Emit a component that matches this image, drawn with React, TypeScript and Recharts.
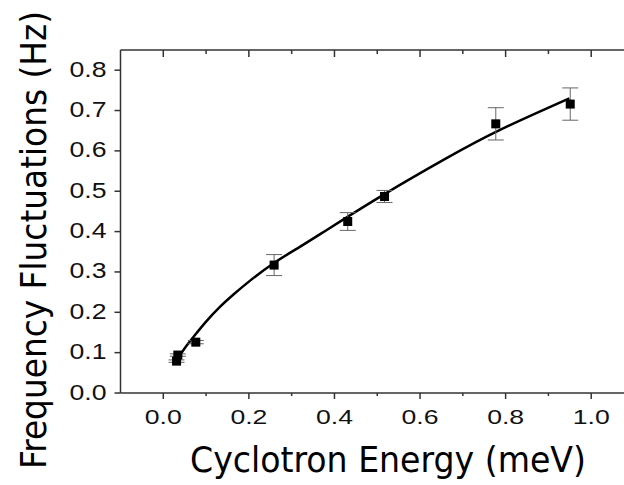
import React from "react";
import { ComposedChart, Line, Scatter, ErrorBar, XAxis, YAxis } from "recharts";

// measured points
const energy = [0.031, 0.034, 0.076, 0.259, 0.431, 0.517, 0.777, 0.951];
const fluct = [0.079, 0.094, 0.126, 0.317, 0.425, 0.487, 0.667, 0.716];
const fluctErr = [0.003, 0.003, 0.004, 0.026, 0.022, 0.015, 0.04, 0.04];

// fit curve
const fitEnergy = [0.037, 0.05, 0.075, 0.1, 0.13, 0.164, 0.2, 0.257, 0.319, 0.382, 0.514, 0.662, 0.787, 0.949];
const fitFluct = [0.09, 0.111, 0.145, 0.177, 0.211, 0.244, 0.276, 0.321, 0.362, 0.404, 0.491, 0.582, 0.652, 0.73];

const xTicks = [0, 0.1, 0.2, 0.3, 0.4, 0.5, 0.6, 0.7, 0.8, 0.9, 1.0];
const yTicks = [0, 0.05, 0.1, 0.15, 0.2, 0.25, 0.3, 0.35, 0.4, 0.45, 0.5, 0.55, 0.6, 0.65, 0.7, 0.75, 0.8];

const points = energy.map((x, i) => ({ x, y: fluct[i], err: fluctErr[i] }));
const fit = fitEnergy.map((x, i) => ({ x, fit: fitFluct[i] }));

const AXIS = "#333";
const NUM_FONT = "'Liberation Sans', Arial, sans-serif";
const TITLE_FONT = "'DejaVu Sans Condensed', 'DejaVu Sans', Verdana, sans-serif";

const xMajor = (v: number) => Math.round(v * 10) % 2 === 0;
const yMajor = (v: number) => Math.round(v * 100) % 10 === 0;

function BottomTick({ x, y, payload }: any) {
  const major = xMajor(payload.value);
  return (
    <g>
      <line x1={x} x2={x} y1={y} y2={y + (major ? 6 : 3)} stroke={AXIS} strokeWidth={1.5} />
      {major && (
        <text
          x={x}
          y={y + 30.5}
          textAnchor="middle"
          fontSize={21}
          fontFamily={NUM_FONT}
          fill="#111"
          textLength={37}
          lengthAdjust="spacingAndGlyphs"
        >
          {payload.value.toFixed(1)}
        </text>
      )}
    </g>
  );
}

function TopTick({ x, y, payload }: any) {
  const major = xMajor(payload.value);
  return <line x1={x} x2={x} y1={y} y2={y + (major ? 7 : 4)} stroke={AXIS} strokeWidth={1.5} />;
}

function LeftTick({ x, y, payload }: any) {
  const major = yMajor(payload.value);
  return (
    <g>
      <line x1={x} x2={x - (major ? 6 : 3.5)} y1={y} y2={y} stroke={AXIS} strokeWidth={1.5} />
      {major && (
        <text
          x={x - 14}
          y={y + 6.5}
          textAnchor="end"
          fontSize={21.5}
          fontFamily={NUM_FONT}
          fill="#111"
          textLength={37}
          lengthAdjust="spacingAndGlyphs"
        >
          {payload.value.toFixed(1)}
        </text>
      )}
    </g>
  );
}

function Square({ cx, cy }: any) {
  return <rect x={cx - 4.5} y={cy - 4.5} width={9} height={9} fill="#000" />;
}

const XTitle = () => (
  <text
    x={388}
    y={471.5}
    textAnchor="middle"
    fontSize={36}
    fontFamily={TITLE_FONT}
    fill="#000"
    textLength={396}
    lengthAdjust="spacingAndGlyphs"
  >
    Cyclotron Energy (meV)
  </text>
);

const YTitle = () => (
  <text
    transform="translate(45.5, 240) rotate(-90)"
    x={0}
    y={0}
    textAnchor="middle"
    fontSize={36}
    fontFamily={TITLE_FONT}
    fill="#000"
    textLength={458}
    lengthAdjust="spacingAndGlyphs"
  >
    Frequency Fluctuations (Hz)
  </text>
);

export default function App() {
  return (
    <div style={{ position: "absolute", left: 0, top: 0, width: 624, height: 485, overflow: "hidden", background: "#fff" }}>
      <ComposedChart width={680} height={485} margin={{ top: 40, right: 46, bottom: 32, left: 0 }}>
        <XAxis
          xAxisId="b"
          dataKey="x"
          type="number"
          domain={[-0.1, 1.1]}
          ticks={xTicks}
          tickSize={0}
          tickMargin={0}
          tickLine={false}
          tick={<BottomTick />}
          height={60}
          axisLine={{ stroke: AXIS, strokeWidth: 1.5 }}
          allowDataOverflow
          label={{ content: <XTitle /> }}
        />
        <XAxis
          xAxisId="t"
          orientation="top"
          dataKey="x"
          type="number"
          domain={[-0.1, 1.1]}
          ticks={xTicks}
          tickSize={0}
          tickMargin={0}
          tickLine={false}
          tick={<TopTick />}
          height={10}
          axisLine={{ stroke: AXIS, strokeWidth: 1.5 }}
          allowDataOverflow
        />
        <YAxis
          yAxisId="l"
          type="number"
          domain={[0, 0.85]}
          ticks={yTicks}
          tickSize={0}
          tickMargin={0}
          tickLine={false}
          tick={<LeftTick />}
          width={120.5}
          axisLine={{ stroke: AXIS, strokeWidth: 1.5 }}
          allowDataOverflow
          label={{ content: <YTitle /> }}
        />
        <Line
          xAxisId="b"
          yAxisId="l"
          data={fit}
          dataKey="fit"
          type="natural"
          stroke="#000"
          strokeWidth={2.5}
          dot={false}
          activeDot={false}
          isAnimationActive={false}
        />
        <Scatter xAxisId="b" yAxisId="l" data={points} dataKey="y" shape={<Square />} isAnimationActive={false}>
          <ErrorBar dataKey="err" direction="y" width={8} stroke="#666" strokeWidth={1} />
        </Scatter>
      </ComposedChart>
    </div>
  );
}
